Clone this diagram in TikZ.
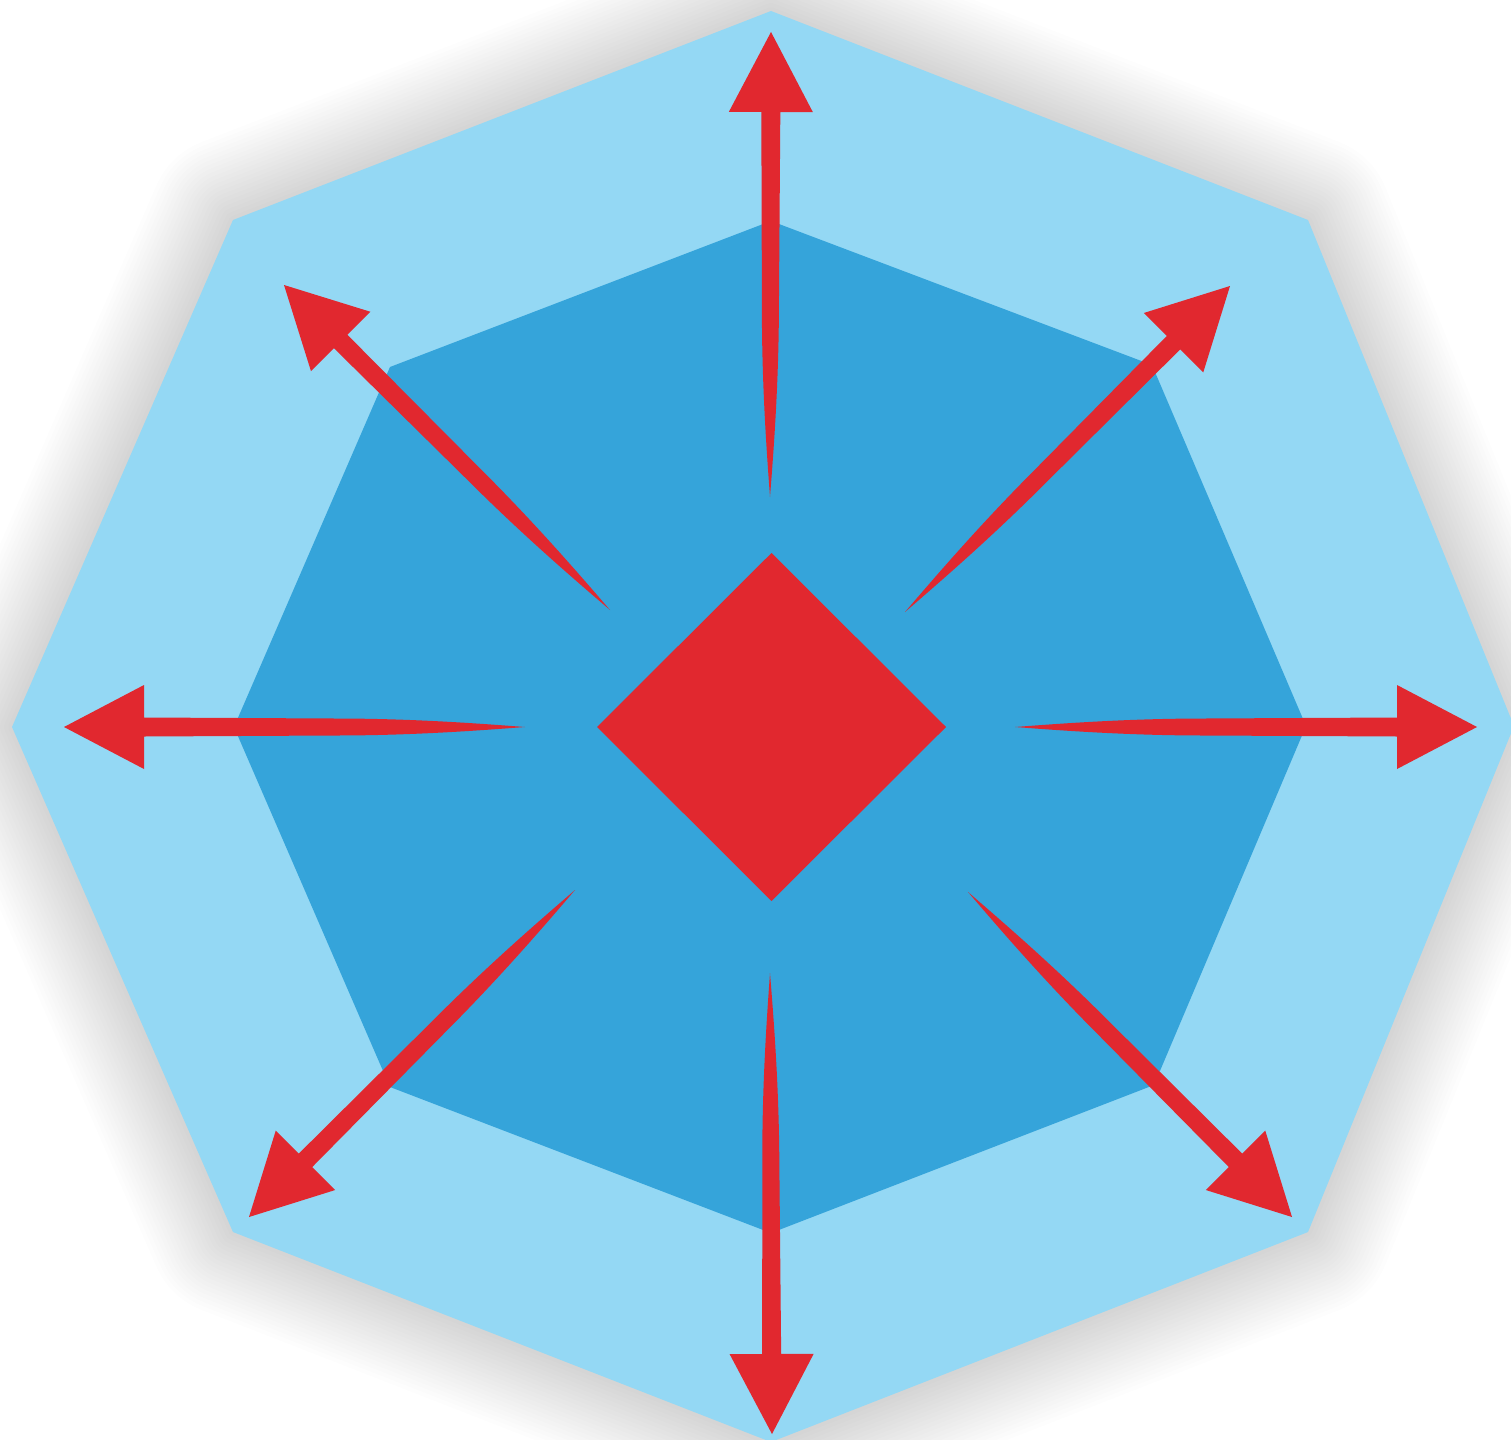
\documentclass[tikz,border=0pt]{standalone}
\usetikzlibrary{calc,shapes.geometric}
\definecolor{outerblue}{RGB}{148,216,244}
\definecolor{innerblue}{RGB}{53,164,218}
\definecolor{arrowred}{RGB}{225,40,47}
\tikzset{
  outeroct/.style={fill=outerblue},
  inneroct/.style={fill=innerblue},
  hubbox/.style={diamond,fill=arrowred,draw=none,inner sep=0pt,outer sep=0pt,aspect=1},
  redarrow/.style={fill=arrowred},
  shadowline/.style={draw=black,line join=round,opacity=0.008}
}
\newcommand\taperarrow[2]{%
  \fill[redarrow] (#1)
    .. controls ($($(#1)!40pt!(#2)$)!3pt!90:(#2)$) and ($($(#1)!110pt!(#2)$)!8.5pt!90:(#2)$)
    .. ($($(#1)!190pt!(#2)$)!8.5pt!90:(#2)$)
    -- ($($(#2)!80pt!(#1)$)!9.5pt!-90:(#1)$)
    -- ($($(#2)!80pt!(#1)$)!42pt!-90:(#1)$)
    -- (#2)
    -- ($($(#2)!80pt!(#1)$)!42pt!90:(#1)$)
    -- ($($(#2)!80pt!(#1)$)!9.5pt!90:(#1)$)
    -- ($($(#1)!190pt!(#2)$)!8.5pt!-90:(#2)$)
    .. controls ($($(#1)!110pt!(#2)$)!8.5pt!-90:(#2)$) and ($($(#1)!40pt!(#2)$)!3pt!-90:(#2)$)
    .. (#1) -- cycle;}
\begin{document}
\begin{tikzpicture}[x=1pt,y=-1pt]
\useasboundingbox (0,0) rectangle (1511,1439);
\fill[white] (0,0) rectangle (1511,1439);
% outer octagon vertices
\coordinate (o1) at (771,11);
\coordinate (o2) at (1308,220);
\coordinate (o3) at (1514,726);
\coordinate (o4) at (1308,1232);
\coordinate (o5) at (771,1442);
\coordinate (o6) at (233,1232);
\coordinate (o7) at (12,727);
\coordinate (o8) at (233,220);
% shadow
\foreach \w in {8,16,...,170}{
  \draw[shadowline,line width=\w pt] (o1)--(o2)--(o3)--(o4)--(o5)--(o6)--(o7)--(o8)--cycle;
}
\fill[outeroct] (o1)--(o2)--(o3)--(o4)--(o5)--(o6)--(o7)--(o8)--cycle;
% inner octagon
\coordinate (i1) at (771,221);
\coordinate (i2) at (1152,365);
\coordinate (i3) at (1306,726);
\coordinate (i4) at (1154,1085);
\coordinate (i5) at (771,1233);
\coordinate (i6) at (390,1087);
\coordinate (i7) at (234,727);
\coordinate (i8) at (390,367);
\fill[inneroct] (i1)--(i2)--(i3)--(i4)--(i5)--(i6)--(i7)--(i8)--cycle;
% hub
\node[hubbox,minimum width=349pt,minimum height=348pt] (hub) at (771.5,727) {};
% arrow ends
\coordinate (tN) at (770,497);  \coordinate (pN) at (771,32);
\coordinate (tS) at (770,973);  \coordinate (pS) at (772,1434);
\coordinate (tW) at (525,727);  \coordinate (pW) at (64,727);
\coordinate (tE) at (1015,727); \coordinate (pE) at (1477,727);
\coordinate (tNW) at (610,610); \coordinate (pNW) at (284,285);
\coordinate (tNE) at (905,612); \coordinate (pNE) at (1230,286);
\coordinate (tSW) at (575,890); \coordinate (pSW) at (249,1217);
\coordinate (tSE) at (968,892); \coordinate (pSE) at (1292,1217);
\taperarrow{tN}{pN}
\taperarrow{tS}{pS}
\taperarrow{tW}{pW}
\taperarrow{tE}{pE}
\taperarrow{tNW}{pNW}
\taperarrow{tNE}{pNE}
\taperarrow{tSW}{pSW}
\taperarrow{tSE}{pSE}
\end{tikzpicture}
\end{document}
